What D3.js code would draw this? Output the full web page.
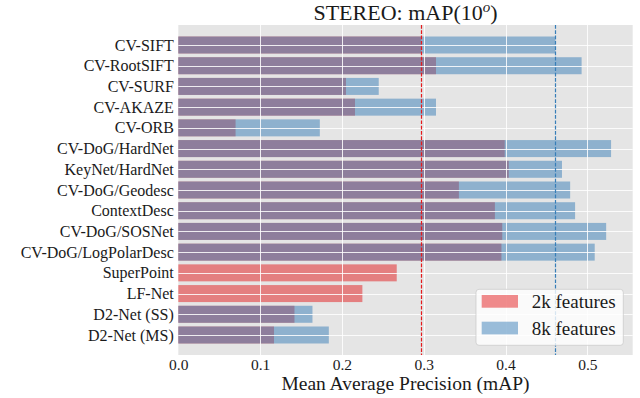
<!DOCTYPE html>
<html>
<head>
<meta charset="utf-8">
<script src="https://cdn.jsdelivr.net/npm/d3@7"></script>
<style>
  body { margin: 0; background: #fff; }
  text { font-family: "Liberation Serif", serif; fill: #1a1a1a; }
</style>
</head>
<body>
<script>
// categories, top to bottom
var methods = ['CV-SIFT', 'CV-RootSIFT', 'CV-SURF', 'CV-AKAZE', 'CV-ORB',
               'CV-DoG/HardNet', 'KeyNet/HardNet', 'CV-DoG/Geodesc', 'ContextDesc',
               'CV-DoG/SOSNet', 'CV-DoG/LogPolarDesc', 'SuperPoint', 'LF-Net',
               'D2-Net (SS)', 'D2-Net (MS)'];

// mAP(10 deg) with 2k and 8k features (null = no entry)
var map2k = [0.297, 0.315, 0.205, 0.216, 0.070,
             0.399, 0.404, 0.343, 0.387,
             0.396, 0.395, 0.267, 0.225,
             0.142, 0.117];
var map8k = [0.461, 0.493, 0.245, 0.315, 0.173,
             0.529, 0.469, 0.479, 0.485,
             0.523, 0.509, null, null,
             0.164, 0.184];

var xTicks = [0, 0.1, 0.2, 0.3, 0.4, 0.5];
var seriesNames = ['2k features', '8k features'];

var WIDTH = 640, HEIGHT = 398;
// plot panel edges (px)
var PL = 178.3, PR = 632.7, PT = 25, PB = 355;
var RED = '#e41a1c', BLUE = '#377eb8';

var svg = d3.select('body').append('svg')
  .attr('width', WIDTH)
  .attr('height', HEIGHT);

var xmax = d3.max(map2k.concat(map8k)) * 1.05;
var x = d3.scaleLinear().domain([0, xmax]).range([PL, PR]);
var y = d3.scalePoint().domain(methods).range([PT, PB]).padding(0.966);
var barH = y.step() * 0.82;

function crisp(v){ return Math.round(v) + 0.5; }

// panel
svg.append('rect')
  .attr('x', PL).attr('y', PT)
  .attr('width', PR - PL).attr('height', PB - PT)
  .attr('fill', '#e5e5e5');

// bars: 2k first, then 8k on top, both half transparent
var rows = methods.map(function(m, i){ return {name: m, a: map2k[i], b: map8k[i]}; });

svg.append('g').selectAll('rect')
  .data(rows.filter(function(d){ return d.a != null; }))
  .enter().append('rect')
  .attr('x', x(0))
  .attr('y', function(d){ return y(d.name) - barH / 2; })
  .attr('width', function(d){ return x(d.a) - x(0); })
  .attr('height', barH)
  .attr('fill', RED)
  .attr('fill-opacity', 0.5);

svg.append('g').selectAll('rect')
  .data(rows.filter(function(d){ return d.b != null; }))
  .enter().append('rect')
  .attr('x', x(0))
  .attr('y', function(d){ return y(d.name) - barH / 2; })
  .attr('width', function(d){ return x(d.b) - x(0); })
  .attr('height', barH)
  .attr('fill', BLUE)
  .attr('fill-opacity', 0.5);

// grid
var grid = svg.append('g').attr('stroke', '#fff').attr('stroke-opacity', 0.85).attr('stroke-width', 1);
grid.selectAll('line.v').data(xTicks.slice(1)).enter().append('line')
  .attr('x1', function(d){ return crisp(x(d)); }).attr('x2', function(d){ return crisp(x(d)); })
  .attr('y1', PT).attr('y2', PB);
grid.selectAll('line.h').data(methods).enter().append('line')
  .attr('x1', PL).attr('x2', PR)
  .attr('y1', function(d){ return crisp(y(d)); }).attr('y2', function(d){ return crisp(y(d)); });

// CV-SIFT reference lines
[[map2k[0], RED], [map8k[0], BLUE]].forEach(function(r){
  svg.append('line')
    .attr('x1', crisp(x(r[0]))).attr('x2', crisp(x(r[0])))
    .attr('y1', PT).attr('y2', PB)
    .attr('stroke', r[1]).attr('stroke-width', 1.2).attr('stroke-dasharray', '3.7,1.6');
});

// axes
var xAxis = svg.append('g')
  .attr('transform', 'translate(0,' + PB + ')')
  .call(d3.axisBottom(x).tickValues(xTicks).tickFormat(d3.format('.1f')).tickSize(0).tickPadding(3.5));
xAxis.select('.domain').remove();
xAxis.selectAll('text').attr('font-size', 15.5).attr('fill', '#1a1a1a')
  .attr('font-family', '"Liberation Serif", serif');

var yAxis = svg.append('g')
  .attr('transform', 'translate(' + PL + ',0)')
  .call(d3.axisLeft(y).tickSize(0).tickPadding(4.5));
yAxis.select('.domain').remove();
yAxis.selectAll('text').attr('font-size', 16).attr('fill', '#1a1a1a')
  .attr('font-family', '"Liberation Serif", serif');

// title and label
var title = svg.append('text')
  .attr('x', (PL + PR) / 2).attr('y', 19.5)
  .attr('text-anchor', 'middle').attr('font-size', 22);
title.append('tspan').text('STEREO: mAP(10');
title.append('tspan').attr('font-style', 'italic').attr('font-size', 15).attr('dy', -8).text('o');
title.append('tspan').attr('dy', 8).text(')');

svg.append('text')
  .attr('x', (PL + PR) / 2).attr('y', 390)
  .attr('text-anchor', 'middle').attr('font-size', 19.5)
  .text('Mean Average Precision (mAP)');

// legend
var lg = svg.append('g').attr('transform', 'translate(476,289.3)');
lg.append('rect')
  .attr('width', 147.3).attr('height', 56)
  .attr('rx', 3)
  .attr('fill', '#fff').attr('fill-opacity', 0.8)
  .attr('stroke', '#cccccc').attr('stroke-opacity', 0.8);
[RED, BLUE].forEach(function(c, i){
  lg.append('rect')
    .attr('x', 5.7).attr('y', 5.7 + i * 26.7)
    .attr('width', 36.3).attr('height', 12.7)
    .attr('fill', c).attr('fill-opacity', 0.5);
  lg.append('text')
    .attr('x', 55.7).attr('y', 19 + i * 26.7)
    .attr('font-size', 19)
    .text(seriesNames[i]);
});
</script>
</body>
</html>
